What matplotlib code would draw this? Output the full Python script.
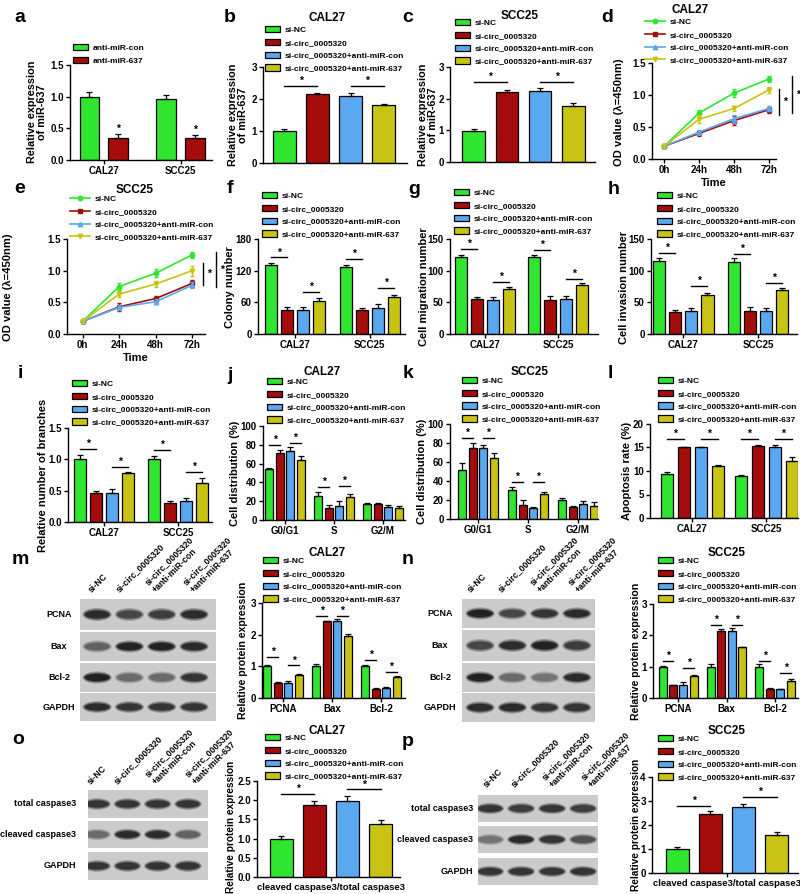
import numpy as np
import matplotlib
matplotlib.use("Agg")
import matplotlib.pyplot as plt
from matplotlib.patches import Ellipse
from matplotlib.lines import Line2D

plt.rcParams["font.family"] = ["Liberation Sans", "DejaVu Sans"]
plt.rcParams["font.weight"] = "bold"
plt.rcParams["axes.labelweight"] = "bold"

# ---------------- data ----------------
groups = ["si-NC", "si-circ_0005320", "si-circ_0005320+anti-miR-con",
          "si-circ_0005320+anti-miR-637"]
colors = ["#2fe52f", "#a50d0d", "#5aa8ef", "#c9c315"]
cells = ["CAL27", "SCC25"]
phases = ["G0/G1", "S", "G2/M"]
proteins = ["PCNA", "Bax", "Bcl-2"]
times = ["0h", "24h", "48h", "72h"]
ratio_label = ["cleaved caspase3/total caspase3"]

a_labels = ["anti-miR-con", "anti-miR-637"]
a_mean = [[0.99, 0.96], [0.34, 0.35]]
a_err = [[0.08, 0.06], [0.07, 0.05]]

b_mean = [[1.0], [2.15], [2.08], [1.80]]
b_err = [[0.05], [0.05], [0.12], [0.03]]
b_sig = [(0, 0, 1, 2.4), (0, 2, 3, 2.4)]

c_mean = [[0.98], [2.20], [2.23], [1.76]]
c_err = [[0.06], [0.07], [0.10], [0.10]]
c_sig = [(0, 0, 1, 2.52), (0, 2, 3, 2.52)]

d_mean = [[0.20, 0.72, 1.03, 1.25], [0.20, 0.40, 0.60, 0.77],
          [0.20, 0.42, 0.63, 0.79], [0.20, 0.62, 0.79, 1.08]]
d_err = [[0.02, 0.04, 0.06, 0.05], [0.02, 0.04, 0.07, 0.05],
         [0.02, 0.04, 0.06, 0.04], [0.02, 0.06, 0.04, 0.05]]
d_sig = [(1.09, 0.69), (1.30, 0.72)]

e_mean = [[0.20, 0.75, 0.96, 1.25], [0.20, 0.43, 0.56, 0.80],
          [0.20, 0.42, 0.51, 0.77], [0.20, 0.63, 0.79, 1.00]]
e_err = [[0.02, 0.05, 0.06, 0.05], [0.02, 0.06, 0.04, 0.05],
         [0.02, 0.04, 0.04, 0.05], [0.02, 0.05, 0.04, 0.08]]
e_sig = [(1.12, 0.77), (1.30, 0.74)]

f_mean = [[131, 127], [46, 46], [46, 49], [62, 70]]
f_err = [[4, 4], [5, 4], [5, 8], [6, 4]]
f_sig = [(0, 0, 1, 145), (0, 2, 3, 80), (1, 0, 1, 143), (1, 2, 3, 87)]

g_mean = [[122, 121], [55, 54], [54, 56], [71, 77]]
g_err = [[3, 3], [4, 6], [5, 4], [4, 3]]
g_sig = [(0, 0, 1, 134), (0, 2, 3, 82), (1, 0, 1, 133), (1, 2, 3, 87)]

h_mean = [[115, 114], [35, 37], [36, 36], [62, 70]]
h_err = [[5, 6], [3, 6], [5, 5], [3, 3]]
h_sig = [(0, 0, 1, 128), (0, 2, 3, 76), (1, 0, 1, 127), (1, 2, 3, 81)]

i_mean = [[1.0, 1.0], [0.47, 0.30], [0.46, 0.33], [0.78, 0.63]]
i_err = [[0.07, 0.06], [0.03, 0.04], [0.06, 0.05], [0.01, 0.07]]
i_sig = [(0, 0, 1, 1.17), (0, 2, 3, 0.88), (1, 0, 1, 1.15), (1, 2, 3, 0.80)]

j_mean = [[54, 26, 17], [71, 13, 17], [73, 15, 14], [64, 24, 13]]
j_err = [[1, 4, 1.5], [4, 3, 1], [5, 5, 2], [4, 4, 2]]
j_sig = [(0, 0, 1, 80), (0, 2, 3, 82), (1, 0, 1, 35), (1, 2, 3, 36)]

k_mean = [[52, 31, 20], [75, 15, 13], [75, 12, 16], [64, 26, 14]]
k_err = [[7, 3, 2], [5, 5, 1], [3, 1, 3], [6, 2, 4]]
k_sig = [(0, 0, 1, 85), (0, 2, 3, 85), (1, 0, 1, 39), (1, 2, 3, 39)]

l_mean = [[9.3, 9.0], [15.0, 15.3], [15.0, 15.2], [11.0, 12.1]]
l_err = [[0.4, 0.2], [0.2, 0.2], [0.2, 0.3], [0.3, 0.9]]
l_sig = [(0, 0, 1, 16.8), (0, 2, 3, 16.8), (1, 0, 1, 16.8), (1, 2, 3, 16.8)]

m_mean = [[1.0, 1.0, 1.0], [0.47, 2.42, 0.30], [0.48, 2.43, 0.31], [0.74, 1.95, 0.65]]
m_err = [[0.04, 0.06, 0.05], [0.03, 0.02, 0.02], [0.05, 0.07, 0.03], [0.02, 0.08, 0.05]]
m_sig = [(0, 0, 1, 1.3), (0, 2, 3, 1.03), (1, 0, 1, 2.6), (1, 2, 3, 2.6),
         (2, 0, 1, 1.19), (2, 2, 3, 0.82)]

n_mean = [[1.0, 1.0, 1.0], [0.40, 2.15, 0.30], [0.42, 2.15, 0.28], [0.70, 1.62, 0.55]]
n_err = [[0.03, 0.08, 0.07], [0.02, 0.05, 0.02], [0.08, 0.07, 0.02], [0.02, 0.02, 0.05]]
n_sig = [(0, 0, 1, 1.19), (0, 2, 3, 0.95), (1, 0, 1, 2.32), (1, 2, 3, 2.32),
         (2, 0, 1, 1.19), (2, 2, 3, 0.79)]

o_mean = [[1.0], [1.88], [1.97], [1.37]]
o_err = [[0.06], [0.10], [0.15], [0.12]]
o_sig = [(0, 0, 1, 2.17), (0, 2, 3, 2.28)]

p_mean = [[1.0], [2.47], [2.77], [1.58]]
p_err = [[0.09], [0.13], [0.11], [0.14]]
p_sig = [(0, 0, 1, 2.8), (0, 2, 3, 3.16)]

lane_names = ["si-NC", "si-circ_0005320", "si-circ_0005320\n+anti-miR-con",
              "si-circ_0005320\n+anti-miR-637"]
m_rows = ["PCNA", "Bax", "Bcl-2", "GAPDH"]
m_bands = [[0.9, 0.75, 0.8, 0.9], [0.6, 0.95, 0.95, 0.9],
           [0.95, 0.55, 0.55, 0.85], [0.9, 0.85, 0.85, 0.85]]
n_bands = [[0.95, 0.75, 0.85, 0.9], [0.75, 0.9, 0.95, 0.8],
           [0.95, 0.55, 0.5, 0.9], [0.9, 0.9, 0.85, 0.85]]
o_rows = ["total caspase3", "cleaved caspase3", "GAPDH"]
o_bands = [[0.85, 0.85, 0.85, 0.85], [0.55, 0.9, 0.9, 0.6], [0.85, 0.85, 0.85, 0.85]]
p_bands = [[0.85, 0.8, 0.85, 0.8], [0.5, 0.9, 0.85, 0.7], [0.85, 0.85, 0.85, 0.85]]

# ---------------- helpers ----------------
W, H = 800, 894
fig = plt.figure(figsize=(W / 100, H / 100), dpi=100)


def ftext(x, y, s, **kw):
    return fig.text(x / W, 1 - y / H, s, **kw)


def new_ax(box, xlim, ylim, yticks, yticklabels=None):
    x0, y0, x1, y1 = box
    ax = fig.add_axes([x0 / W, 1 - y1 / H, (x1 - x0) / W, (y1 - y0) / H])
    ax.set_xlim(xlim)
    ax.set_ylim(ylim)
    ax.set_yticks(yticks)
    if yticklabels is not None:
        ax.set_yticklabels(yticklabels)
    for s in ("top", "right"):
        ax.spines[s].set_visible(False)
    for s in ("left", "bottom"):
        ax.spines[s].set_linewidth(1.0)
    ax.tick_params(length=3, width=1, labelsize=7, pad=1.5)
    ax.patch.set_alpha(0)
    return ax


def bars(ax, means, errs, step, width, cols, cats=None, cat_fs=7):
    means = np.asarray(means, float)
    errs = np.asarray(errs, float)
    n, g = means.shape
    conts = []
    for k in range(n):
        xs = np.arange(g) + (k - (n - 1) / 2) * step
        conts.append(ax.bar(xs, means[k], width, color=cols[k],
                            edgecolor="black", linewidth=0.9, zorder=2))
        ax.errorbar(xs, means[k], yerr=[np.zeros(g), errs[k]], fmt="none",
                    ecolor="black", elinewidth=0.9, capsize=2, capthick=0.9,
                    zorder=3)
    if cats is None:
        ax.set_xticks([])
    else:
        ax.set_xticks(np.arange(g))
        ax.set_xticklabels(cats, fontsize=cat_fs)
    return conts


def sig(ax, sigs, step):
    for gi, k1, k2, y in sigs:
        x1 = gi + (k1 - 1.5) * step
        x2 = gi + (k2 - 1.5) * step
        ax.plot([x1, x2], [y, y], color="black", lw=1, zorder=4)
        ax.text((x1 + x2) / 2, y, "*", ha="center", va="bottom", fontsize=7.5)


def legend(ax, handles, labels, x, y, hl=1.8):
    ax.legend(handles, labels, loc="upper left",
              bbox_to_anchor=(x / W, 1 - (y - 5) / H),
              bbox_transform=fig.transFigure, frameon=False, fontsize=6,
              borderpad=0, borderaxespad=0, handlelength=hl, handleheight=0.8,
              handletextpad=0.6, labelspacing=0.56)


markers = ["o", "s", "^", "v"]


def lines(ax, means, errs, vsig):
    x = np.arange(len(times))
    for k in [2, 1, 3, 0]:
        ax.errorbar(x, means[k], yerr=errs[k], color=colors[k], marker=markers[k],
                    ms=3.2, lw=1.2, elinewidth=1, capsize=1.5, zorder=3 + k)
    ax.set_xticks(x)
    ax.set_xticklabels(times)
    ax.set_xlabel("Time", fontsize=8, labelpad=2)
    xs = [3.3, 3.65]
    for (top, bot), xv in zip(vsig, xs):
        ax.plot([xv, xv], [bot, top], color="black", lw=1, clip_on=False)
        ax.text(xv + 0.17, (top + bot) / 2, "*", ha="center", va="center",
                fontsize=7.5, clip_on=False)
    hs = [Line2D([], [], color=colors[k], marker=markers[k], ms=3.2, lw=1.2)
          for k in range(4)]
    return hs


def ylab(x, y, s, fs=8):
    ftext(x, y, s, rotation=90, ha="center", va="center", fontsize=fs,
          multialignment="center", linespacing=1.05)


def letter(x, y, s):
    ftext(x, y, s, ha="center", va="center", fontsize=14)


def title(x, y, s):
    ftext(x, y, s, ha="center", va="center", fontsize=8.5)


def shade(v):
    g = 0.8 - 0.7 * v
    return (g, g, g)


def blot(xr, rows, names, bands, xlim, label_x, label_ha):
    for (y0, y1), name, inten in zip(rows, names, bands):
        ax = fig.add_axes([xr[0] / W, 1 - y1 / H, (xr[1] - xr[0]) / W, (y1 - y0) / H])
        ax.set_facecolor("#cbcbcb")
        ax.set_xlim(xlim)
        ax.set_ylim(0, 1)
        ax.set_xticks([])
        ax.set_yticks([])
        for s in ax.spines.values():
            s.set_visible(False)
        for i, v in enumerate(inten):
            for sw, sh, al in [(0.9, 0.42, 0.3), (0.84, 0.33, 0.55), (0.76, 0.25, 1.0)]:
                ax.add_patch(Ellipse((i, 0.5), sw, sh, color=shade(v), alpha=al, lw=0))
        ftext(label_x, (y0 + y1) / 2, name, ha=label_ha, va="center", fontsize=6.5)


def lane_labels(xs, y, offs):
    for x, off, lab in zip(xs, offs, lane_names):
        ftext(x + off, y, lab, rotation=45, rotation_mode="anchor", ha="left",
              va="bottom", fontsize=6.2, linespacing=1.2)


# ---------------- a ----------------
letter(20, 18, "a")
ax = new_ax((70, 65, 212, 160), (-0.44, 1.41), (0, 1.5), [0, 0.5, 1.0, 1.5],
            ["0.0", "0.5", "1.0", "1.5"])
cont = bars(ax, a_mean, a_err, 0.372, 0.26, [colors[0], colors[1]], cells)
for x, y in [(0.186, a_mean[1][0] + a_err[1][0]), (1.186, a_mean[1][1] + a_err[1][1])]:
    ax.text(x, y, "*", ha="center", va="bottom", fontsize=7.5)
legend(ax, cont, a_labels, 73, 49)
ylab(37, 112, "Relative expression\nof miR-637", 7.8)

# ---------------- b ----------------
letter(230, 18, "b")
title(327, 18, "CAL27")
ax = new_ax((263, 67, 407, 163), (-2.14, 2.2), (0, 3), [0, 1, 2, 3])
cont = bars(ax, b_mean, b_err, 1.0, 0.7, colors)
sig(ax, b_sig, 1.0)
legend(ax, cont, groups, 265, 31)
ylab(238, 115, "Relative expression\nof miR-637", 7.8)

# ---------------- c ----------------
letter(408, 18, "c")
title(520, 16, "SCC25")
ax = new_ax((450, 67, 595, 162), (-2.21, 2.15), (0, 3), [0, 1, 2, 3])
cont = bars(ax, c_mean, c_err, 1.0, 0.67, colors)
sig(ax, c_sig, 1.0)
legend(ax, cont, groups, 455, 24)
ylab(428, 115, "Relative expression\nof miR-637", 7.8)

# ---------------- d ----------------
letter(607, 18, "d")
title(690, 10, "CAL27")
ax = new_ax((652, 63, 776, 159), (-0.35, 3.2), (0, 1.5), [0, 0.5, 1.0, 1.5],
            ["0.0", "0.5", "1.0", "1.5"])
hs = lines(ax, d_mean, d_err, d_sig)
legend(ax, hs, groups, 645, 23, hl=2.4)
ylab(619, 112, "OD value (λ=450nm)")

# ---------------- e ----------------
letter(20, 188, "e")
title(135, 190, "SCC25")
ax = new_ax((67, 239, 205, 334), (-0.43, 3.35), (0, 1.5), [0, 0.5, 1.0, 1.5],
            ["0.0", "0.5", "1.0", "1.5"])
hs = lines(ax, e_mean, e_err, e_sig)
legend(ax, hs, groups, 70, 200, hl=2.4)
ylab(8, 287, "OD value (λ=450nm)")

# ---------------- f, g, h ----------------
letter(230, 188, "f")
ax = new_ax((258, 239, 405, 334), (-0.49, 1.47), (0, 180), [0, 60, 120, 180])
cont = bars(ax, f_mean, f_err, 0.213, 0.16, colors, cells)
sig(ax, f_sig, 0.213)
legend(ax, cont, groups, 262, 197)
ylab(230, 287, "Colony number")

letter(414, 190, "g")
ax = new_ax((450, 239, 598, 334), (-0.48, 1.55), (0, 150), [0, 50, 100, 150])
cont = bars(ax, g_mean, g_err, 0.22, 0.165, colors, cells)
sig(ax, g_sig, 0.22)
legend(ax, cont, groups, 454, 194)
ylab(424, 287, "Cell migration number")

letter(614, 190, "h")
ax = new_ax((651, 239, 797, 334), (-0.43, 1.52), (0, 150), [0, 50, 100, 150])
cont = bars(ax, h_mean, h_err, 0.216, 0.162, colors, cells)
sig(ax, h_sig, 0.216)
legend(ax, cont, groups, 657, 197)
ylab(624, 287, "Cell invasion number")

# ---------------- i, j, k, l ----------------
letter(20, 373, "i")
ax = new_ax((68, 428, 212, 522), (-0.49, 1.46), (0, 1.5), [0, 0.5, 1.0, 1.5],
            ["0.0", "0.5", "1.0", "1.5"])
cont = bars(ax, i_mean, i_err, 0.216, 0.162, colors, cells)
sig(ax, i_sig, 0.216)
legend(ax, cont, groups, 72, 385)
ylab(43, 475, "Relative number of branches")

letter(230, 375, "j")
title(322, 372, "CAL27")
ax = new_ax((263, 426, 405, 520), (-0.45, 2.45), (0, 100), [0, 20, 40, 60, 80, 100])
cont = bars(ax, j_mean, j_err, 0.214, 0.163, colors, phases)
sig(ax, j_sig, 0.214)
legend(ax, cont, groups, 267, 383)
ylab(235, 473, "Cell distribution (%)")

letter(408, 373, "k")
title(530, 372, "SCC25")
ax = new_ax((450, 424, 598, 519), (-0.56, 2.4), (0, 100), [0, 20, 40, 60, 80, 100])
cont = bars(ax, k_mean, k_err, 0.21, 0.16, colors, phases)
sig(ax, k_sig, 0.21)
legend(ax, cont, groups, 462, 382)
ylab(422, 471, "Cell distribution (%)")

letter(610, 373, "l")
ax = new_ax((650, 424, 798, 518), (-0.57, 1.43), (0, 20), [0, 5, 10, 15, 20])
cont = bars(ax, l_mean, l_err, 0.23, 0.162, colors, cells)
sig(ax, l_sig, 0.23)
legend(ax, cont, groups, 658, 382)
ylab(627, 471, "Apoptosis rate (%)")

# ---------------- m ----------------
letter(20, 560, "m")
blot((80, 216), [(599, 630), (632, 661), (663, 692), (693, 721)], m_rows, m_bands,
     (-0.53, 3.68), 59, "center")
lane_labels([97, 129, 162, 194], 594, [-4, -9, -5, 1])
title(327, 553, "CAL27")
ax = new_ax((262, 603, 405, 698), (-0.43, 2.49), (0, 3), [0, 1, 2, 3])
cont = bars(ax, m_mean, m_err, 0.214, 0.163, colors, proteins)
sig(ax, m_sig, 0.214)
legend(ax, cont, groups, 263, 562)
ylab(243, 650, "Relative protein expression", 7.6)

# ---------------- n ----------------
letter(408, 560, "n")
blot((462, 595), [(599, 628), (630, 661), (663, 692), (693, 722)], m_rows, n_bands,
     (-0.56, 3.56), 440, "center")
lane_labels([480, 512, 543, 577], 594, [-8, -10, -1, 3])
title(727, 553, "SCC25")
ax = new_ax((653, 604, 798, 698), (-0.52, 2.47), (0, 3), [0, 1, 2, 3])
cont = bars(ax, n_mean, n_err, 0.216, 0.165, colors, proteins)
sig(ax, n_sig, 0.216)
legend(ax, cont, groups, 658, 562)
ylab(636, 651, "Relative protein expression", 7.6)

# ---------------- o ----------------
letter(18, 740, "o")
blot((88, 208), [(790, 818), (821, 848), (852, 880)], o_rows, o_bands,
     (-0.3, 3.66), 76, "right")
lane_labels([97, 128, 157, 188], 786, [-5, -10, 0, 9])
title(327, 731, "CAL27")
ax = new_ax((257, 781, 400, 877), (-2.24, 2.09), (0, 2.5), [0, 0.5, 1.0, 1.5, 2.0, 2.5],
            ["0.0", "0.5", "1.0", "1.5", "2.0", "2.5"])
cont = bars(ax, o_mean, o_err, 1.0, 0.7, colors, ratio_label, 6.8)
sig(ax, o_sig, 1.0)
legend(ax, cont, groups, 265, 739)
ylab(231, 827, "Relative protein expression", 7.3)

# ---------------- p ----------------
letter(408, 742, "p")
blot((478, 598), [(795, 822), (826, 853), (858, 885)], o_rows, p_bands,
     (-0.39, 3.48), 473, "right")
lane_labels([490, 523, 553, 583], 789, [-2, -8, 1, 10])
title(727, 731, "SCC25")
ax = new_ax((652, 777, 798, 873), (-2.27, 2.15), (0, 4), [0, 1, 2, 3, 4])
cont = bars(ax, p_mean, p_err, 1.0, 0.7, colors, ratio_label, 6.8)
sig(ax, p_sig, 1.0)
legend(ax, cont, groups, 658, 740)
ylab(636, 825, "Relative protein expression", 7.3)

plt.savefig("out.png", dpi=100)
